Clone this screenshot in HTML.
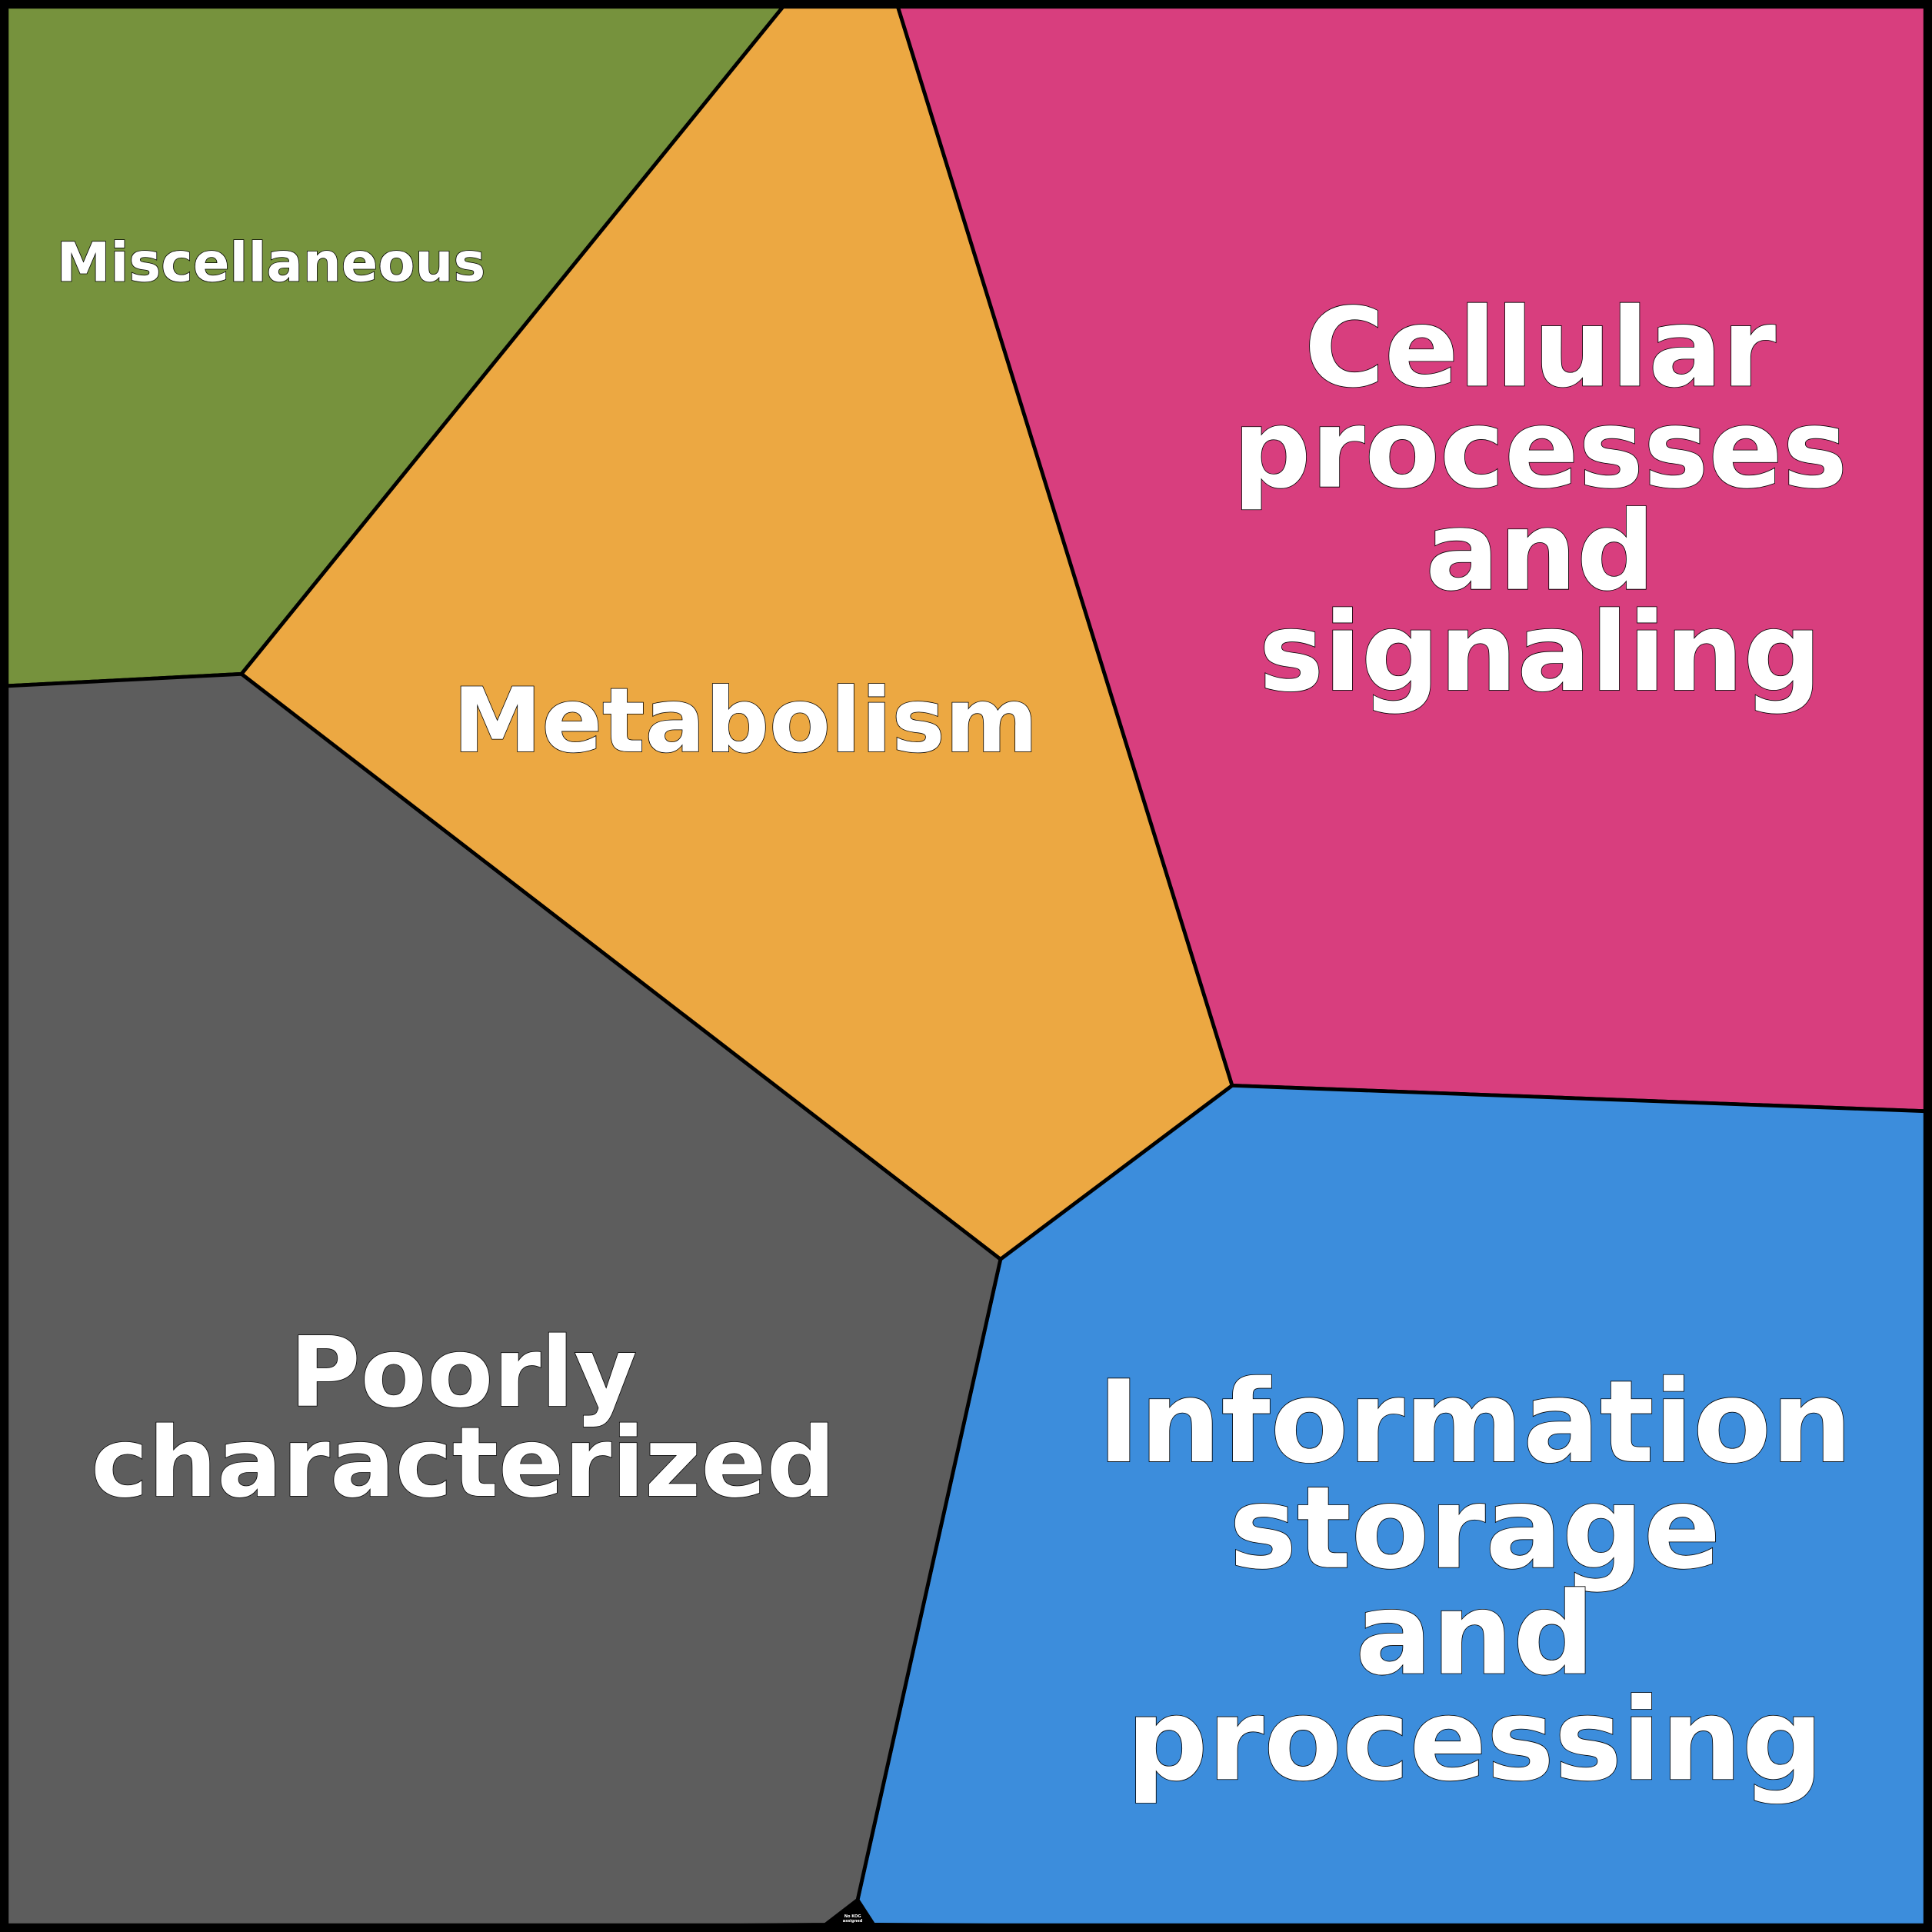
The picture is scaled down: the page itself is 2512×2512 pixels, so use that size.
<!DOCTYPE html>
<html><head><style>html,body{margin:0;padding:0;background:#000}svg{display:block}</style></head>
<body>
<svg width="2512" height="2512" viewBox="0 0 1568 1568" xmlns="http://www.w3.org/2000/svg">
<rect x="0" y="0" width="1568" height="1568" fill="#000"/>
<g stroke="#000" stroke-width="3" stroke-linejoin="round">
<polygon points="0,0 640,0 196,547 0,557" fill="#76923d"/>
<polygon points="640,0 727,0 1000,881 812,1022 196,547" fill="#eca842"/>
<polygon points="727,0 1568,0 1568,902 1000,881" fill="#d83e7e"/>
<polygon points="1000,881 1568,902 1568,1568 709,1562 696,1542 812,1022" fill="#3c8ddc"/>
<polygon points="0,557 196,547 812,1022 696,1542 670,1562 0,1568" fill="#5d5d5d"/>
<polygon points="670,1562 696,1542 709,1562" fill="#000"/>
</g>
<rect x="3.5" y="3.5" width="1561" height="1561" fill="none" stroke="#000" stroke-width="7"/>
<g font-family="'DejaVu Sans','Liberation Sans',sans-serif" font-weight="bold" fill="#fff" stroke="#000" stroke-width="1" paint-order="stroke" text-anchor="middle">
<text x="220" y="228" font-size="43.8">Miscellaneous</text>
<text x="605" y="610" font-size="72.5">Metabolism</text>
<text font-size="88.6"><tspan x="1250" y="313">Cellular</tspan><tspan x="1250" y="395">processes</tspan><tspan x="1250" y="478">and</tspan><tspan x="1250" y="560">signaling</tspan></text>
<text font-size="92.3"><tspan x="1197" y="1186">Information</tspan><tspan x="1197" y="1272">storage</tspan><tspan x="1197" y="1358">and</tspan><tspan x="1197" y="1444">processing</tspan></text>
<text font-size="78.4"><tspan x="376" y="1141">Poorly</tspan><tspan x="376" y="1214">characterized</tspan></text>
<text font-size="3.2" stroke="none"><tspan x="692" y="1556">No KOG</tspan><tspan x="692" y="1560">assigned</tspan></text>
</g>
</svg>
</body></html>
